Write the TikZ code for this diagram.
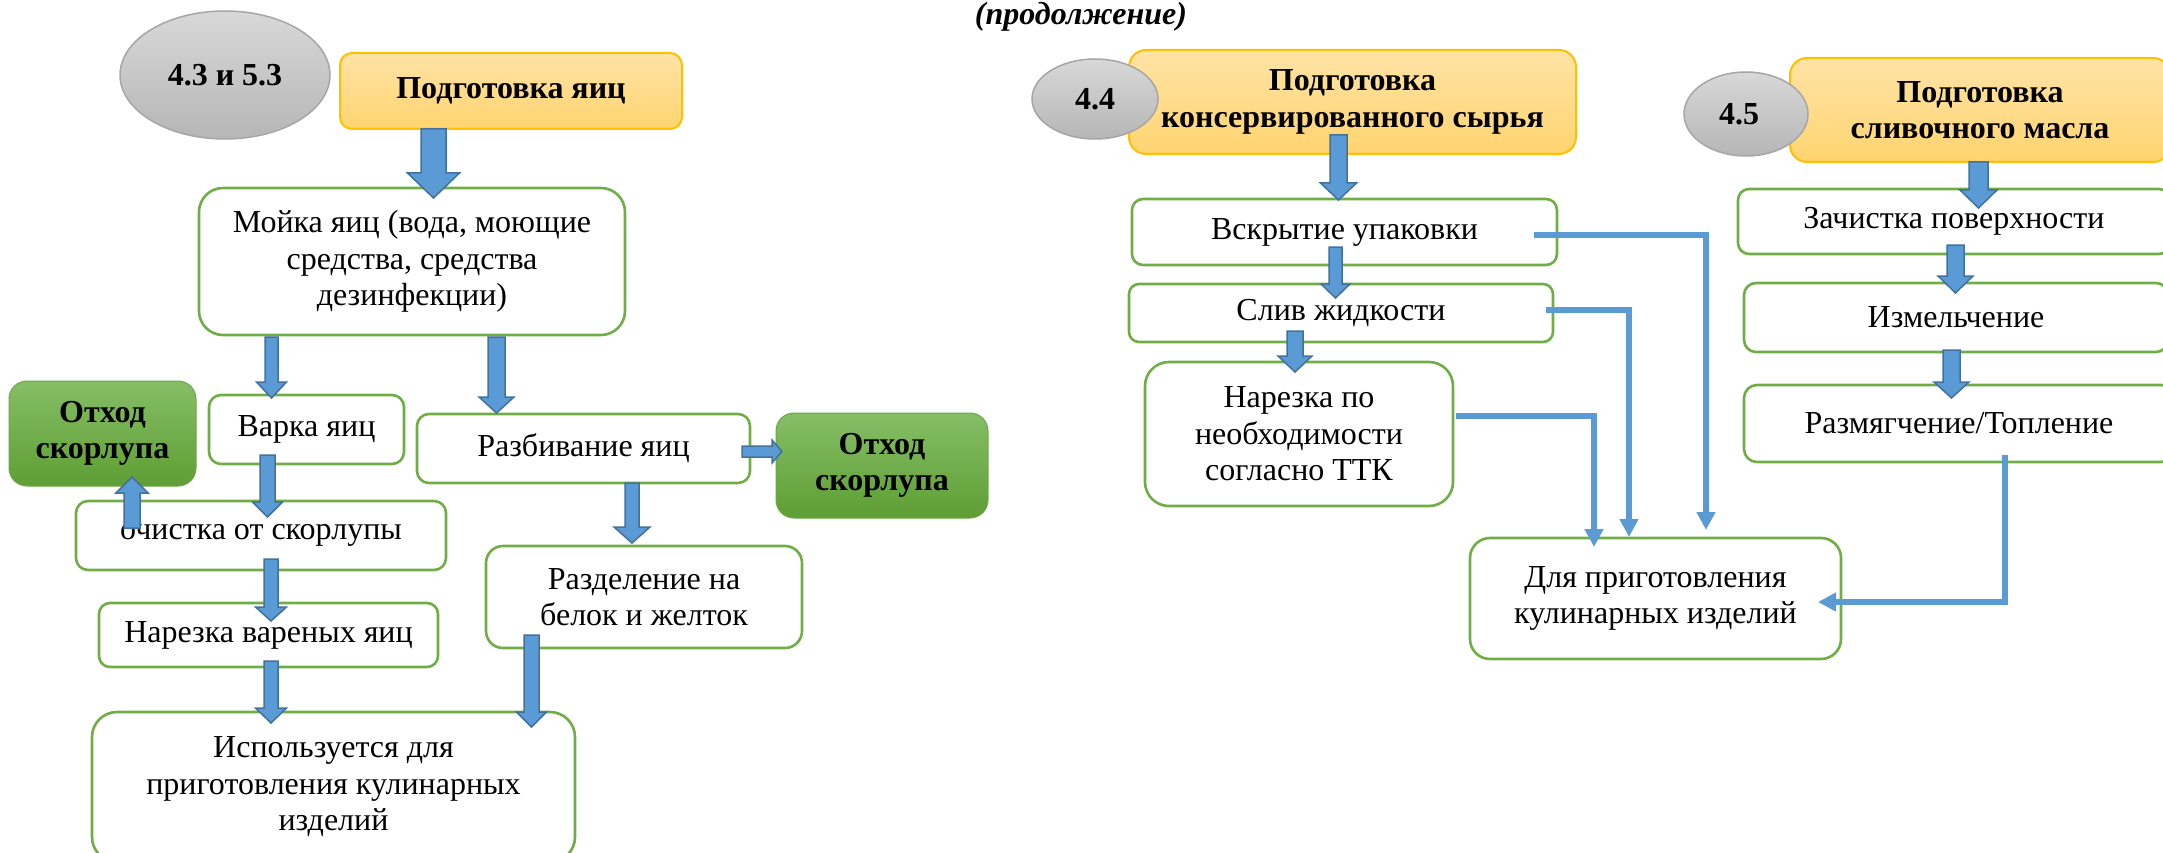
\documentclass[tikz,border=0pt]{standalone}
\usepackage{fontspec}
\setmainfont{Liberation Serif}
\usetikzlibrary{calc,shapes.geometric,arrows.meta}

\definecolor{gborder}{HTML}{70AD47}
\definecolor{oborder}{HTML}{FFC000}
\definecolor{otop}{HTML}{FFE3A6}
\definecolor{obot}{HTML}{FFD470}
\definecolor{wtop}{HTML}{86BE66}
\definecolor{wbot}{HTML}{5E9E34}
\definecolor{wedge}{HTML}{6AA843}
\definecolor{etop}{HTML}{D8D8D8}
\definecolor{ebot}{HTML}{B6B6B6}
\definecolor{eedge}{HTML}{A6A6A6}
\definecolor{afill}{HTML}{5B9BD5}
\definecolor{aedge}{HTML}{41719C}

\newcommand{\normfnt}{\fontsize{32pt}{36.5pt}\selectfont}
\newcommand{\boldfnt}{\fontsize{32pt}{36.5pt}\selectfont\bfseries}

% block arrow: #1 start, #2 tip, #3 shaft half width, #4 head half width, #5 head length
\newcommand{\blockarrow}[5]{%
  \coordinate (baB) at ($(#2)!#5!(#1)$);
  \filldraw[blockarr] ($(#1)!#3!90:(#2)$) -- ($(baB)!#3!90:(#2)$) -- ($(baB)!#4!90:(#2)$) -- (#2)
    -- ($(baB)!#4!-90:(#2)$) -- ($(baB)!#3!-90:(#2)$) -- ($(#1)!#3!-90:(#2)$) -- cycle;
}

\tikzset{
  greenbox/.style={draw=gborder, line width=2.6pt, fill=white, align=center,
    inner sep=0pt, outer sep=0pt, font=\normfnt},
  orangebox/.style={draw=oborder, line width=2pt, top color=otop, bottom color=obot,
    align=center, inner sep=0pt, outer sep=0pt, font=\boldfnt},
  wastebox/.style={draw=wedge, line width=1pt, top color=wtop, bottom color=wbot,
    align=center, inner sep=0pt, outer sep=0pt, font=\boldfnt},
  bubble/.style={ellipse, draw=eedge, line width=1.5pt, top color=etop, bottom color=ebot,
    inner sep=0pt, outer sep=0pt, font=\boldfnt},
  blockarr/.style={fill=afill, draw=aedge, line width=1.5pt},
  linearr/.style={draw=afill, line width=6pt, -{Triangle[width=18pt,length=18pt]}},
}

\begin{document}
\begin{tikzpicture}[x=1pt,y=-1pt]
\useasboundingbox (0,0) rectangle (2163,853);
\clip (0,0) rectangle (2163,853);

% ---------- left part ----------
\node[bubble, minimum width=210pt, minimum height=128pt] (e43) at (225,75) {4.3 и 5.3};
\node[orangebox, minimum width=342pt, minimum height=76pt, rounded corners=12pt] (prepEggs) at (511,91) {Подготовка яиц};
\node[greenbox, minimum width=426pt, minimum height=147pt, rounded corners=24pt] (mojka) at (412,261.5)
  {Мойка яиц (вода, моющие\\средства, средства\\дезинфекции)};
\node[greenbox, minimum width=195pt, minimum height=69pt, rounded corners=12pt] (varka) at (306.5,429.5) {Варка яиц};
\node[wastebox, minimum width=187pt, minimum height=105pt, rounded corners=18pt] (otxodL) at (102.5,433.5) {Отход\\скорлупа};
\node[greenbox, minimum width=333pt, minimum height=69pt, rounded corners=12pt] (razbiv) at (583.5,448.5) {Разбивание яиц};
\node[wastebox, minimum width=212pt, minimum height=105pt, rounded corners=18pt] (otxodR) at (882,465.5) {Отход\\скорлупа};
\node[greenbox, minimum width=370pt, minimum height=69pt, rounded corners=12pt] (ochistka) at (261,535.5) {\raisebox{-4pt}{очистка от скорлупы}};
\node[greenbox, minimum width=339pt, minimum height=64pt, rounded corners=11pt] (narezkaV) at (268.5,635) {Нарезка вареных яиц};
\node[greenbox, minimum width=316pt, minimum height=102pt, rounded corners=17pt] (razdel) at (644,597) {Разделение на\\белок и желток};
\node[greenbox, minimum width=483pt, minimum height=150pt, rounded corners=25pt] (ispolz) at (333.5,787)
  {Используется для\\приготовления кулинарных\\изделий};

% ---------- title ----------
\node[font=\fontsize{32pt}{36pt}\selectfont\bfseries\itshape, anchor=base, inner sep=0pt] (title) at (1081,25) {(продолжение)};

% ---------- middle part ----------
\node[orangebox, minimum width=447pt, minimum height=104pt, rounded corners=17pt] (prepCons) at (1352.5,102)
  {Подготовка\\консервированного сырья};
\node[bubble, minimum width=126pt, minimum height=80pt] (e44) at (1095,99) {4.4};
\node[greenbox, minimum width=425pt, minimum height=66pt, rounded corners=11pt] (vskr) at (1344.5,232) {Вскрытие упаковки};
\node[greenbox, minimum width=424pt, minimum height=58pt, rounded corners=10pt] (sliv) at (1341,313) {Слив жидкости};
\node[greenbox, minimum width=308pt, minimum height=144pt, rounded corners=24pt] (narezkaP) at (1299,434)
  {Нарезка по\\необходимости\\согласно ТТК};
\node[greenbox, minimum width=371pt, minimum height=121pt, rounded corners=20pt] (dlya) at (1655.5,598.5)
  {Для приготовления\\кулинарных изделий};

% ---------- right part ----------
\node[orangebox, minimum width=380pt, minimum height=104pt, rounded corners=17pt] (prepButter) at (1980,110)
  {Подготовка\\сливочного масла};
\node[bubble, minimum width=124pt, minimum height=84pt] (e45) at (1746,114) {\hspace*{-14pt}4.5};
\node[greenbox, minimum width=432pt, minimum height=65pt, rounded corners=11pt] (zach) at (1954,221.5) {Зачистка поверхности};
\node[greenbox, minimum width=424pt, minimum height=69pt, rounded corners=12pt] (izm) at (1956,317.5) {Измельчение};
\node[greenbox, minimum width=430pt, minimum height=77pt, rounded corners=13pt] (razm) at (1959,423.5) {Размягчение/Топление};

% ---------- block arrow end points ----------
\coordinate (a1s) at ($(prepEggs.south)+(-77.5,0)$);
\coordinate (a1t) at ($(mojka.north)+(21.5,10)$);
\coordinate (a2s) at ($(mojka.south)+(-140.5,2)$);
\coordinate (a2t) at ($(varka.north)+(-35,3)$);
\coordinate (a3s) at ($(mojka.south)+(84.5,2)$);
\coordinate (a3t) at ($(razbiv.north)+(-87,-1)$);
\coordinate (a4s) at ($(varka.south)+(-39,-9)$);
\coordinate (a4t) at ($(ochistka.north)+(6.5,16)$);
\coordinate (a5s) at ($(ochistka.north)+(-129,27)$);
\coordinate (a5t) at ($(otxodL.south)+(29.5,-9)$);
\coordinate (a6s) at ($(ochistka.south)+(10,-11)$);
\coordinate (a6t) at ($(narezkaV.north)+(2.5,18)$);
\coordinate (a7s) at ($(narezkaV.south)+(2.5,-6)$);
\coordinate (a7t) at ($(ispolz.north)+(-62.5,11)$);
\coordinate (a8s) at ($(razbiv.south)+(48.5,0)$);
\coordinate (a8t) at ($(razdel.north)+(-12,-3)$);
\coordinate (a9s) at ($(razdel.south)+(-112.5,-13)$);
\coordinate (a9t) at ($(ispolz.north)+(198,15)$);
\coordinate (a10s) at ($(razbiv.east)+(-8,3)$);
\coordinate (a10t) at ($(otxodR.west)+(6,-14)$);
\coordinate (a11s) at ($(prepCons.south)+(-14,-19)$);
\coordinate (a11t) at ($(vskr.north)+(-6,1)$);
\coordinate (a12s) at ($(vskr.south)+(-9,-18)$);
\coordinate (a12t) at ($(sliv.north)+(-5.5,14)$);
\coordinate (a13s) at ($(sliv.south)+(-46,-11)$);
\coordinate (a13t) at ($(narezkaP.north)+(-4,10)$);
\coordinate (a14s) at ($(prepButter.south)+(-1.5,0)$);
\coordinate (a14t) at ($(zach.north)+(24.5,19)$);
\coordinate (a15s) at ($(zach.south)+(1.5,-9)$);
\coordinate (a15t) at ($(izm.north)+(-0.5,10)$);
\coordinate (a16s) at ($(izm.south)+(-4.5,-2)$);
\coordinate (a16t) at ($(razm.north)+(-7.5,13)$);

\blockarrow{a1s}{a1t}{12.5pt}{26pt}{25pt}
\blockarrow{a2s}{a2t}{6.5pt}{15pt}{16pt}
\blockarrow{a3s}{a3t}{8.5pt}{17.5pt}{16pt}
\blockarrow{a4s}{a4t}{7.5pt}{15pt}{15pt}
\blockarrow{a5s}{a5t}{8pt}{16pt}{16pt}
\blockarrow{a6s}{a6t}{7pt}{15.5pt}{14pt}
\blockarrow{a7s}{a7t}{7pt}{15.5pt}{15pt}
\blockarrow{a8s}{a8t}{7pt}{18pt}{16pt}
\blockarrow{a9s}{a9t}{7.5pt}{15pt}{15pt}
\blockarrow{a10s}{a10t}{5.5pt}{11.5pt}{10pt}
\blockarrow{a11s}{a11t}{8.5pt}{18pt}{17pt}
\blockarrow{a12s}{a12t}{6.5pt}{14.5pt}{14pt}
\blockarrow{a13s}{a13t}{8pt}{17pt}{16pt}
\blockarrow{a14s}{a14t}{9.5pt}{18.5pt}{18pt}
\blockarrow{a15s}{a15t}{8.5pt}{17.5pt}{17pt}
\blockarrow{a16s}{a16t}{8.5pt}{17.5pt}{16pt}

% ---------- line arrows into "Для приготовления" ----------
\coordinate (l1s) at ($(vskr.east)+(-23,3)$);
\coordinate (l1t) at ($(dlya.north)+(50.5,-8)$);
\coordinate (l2s) at ($(sliv.east)+(-7,-3.5)$);
\coordinate (l2t) at ($(dlya.north)+(-26.5,-1)$);
\coordinate (l3s) at ($(narezkaP.east)+(3,-18)$);
\coordinate (l3t) at ($(dlya.north)+(-61.5,9)$);
\coordinate (l4s) at ($(razm.south)+(46,-7)$);
\coordinate (l4t) at ($(dlya.east)+(-23,3.5)$);

\draw[linearr] (l1s) -| (l1t);
\draw[linearr] (l2s) -| (l2t);
\draw[linearr] (l3s) -| (l3t);
\draw[linearr] (l4s) |- (l4t);
\end{tikzpicture}
\end{document}
